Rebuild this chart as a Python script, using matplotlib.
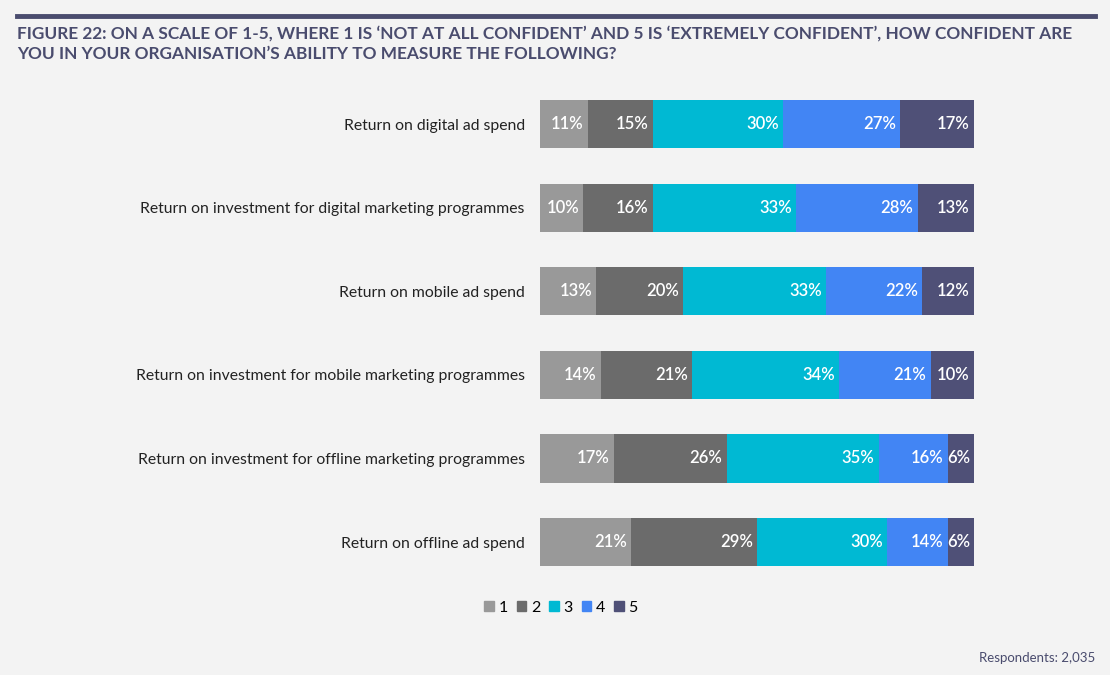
import numpy as np
import matplotlib.pyplot as plt
from matplotlib.patches import Patch

# data
categories = ['Return on digital ad spend',
              'Return on investment for digital marketing programmes',
              'Return on mobile ad spend',
              'Return on investment for mobile marketing programmes',
              'Return on investment for offline marketing programmes',
              'Return on offline ad spend']
score_names = ['1', '2', '3', '4', '5']
score_1 = [11, 10, 13, 14, 17, 21]
score_2 = [15, 16, 20, 21, 26, 29]
score_3 = [30, 33, 33, 34, 35, 30]
score_4 = [27, 28, 22, 21, 16, 14]
score_5 = [17, 13, 12, 10, 6, 6]
colors = ['#999999', '#6b6b6b', '#00b9d3', '#4285f4', '#4f5077']

title = ("FIGURE 22: ON A SCALE OF 1-5, WHERE 1 IS \u2018NOT AT ALL CONFIDENT\u2019 AND 5 IS "
         "\u2018EXTREMELY CONFIDENT\u2019, HOW CONFIDENT ARE\n"
         "YOU IN YOUR ORGANISATION\u2019S ABILITY TO MEASURE THE FOLLOWING?")
bg = '#f3f3f3'
navy = '#4a4c6e'

plt.rcParams['font.family'] = ['Lato', 'DejaVu Sans']

fig = plt.figure(figsize=(11.1, 6.75), dpi=100, facecolor=bg)
ax = fig.add_axes([0.4865, 0.135, 0.391, 0.743])
ax.set_facecolor(bg)

series = [score_1, score_2, score_3, score_4, score_5]
y = np.arange(len(categories))
left = np.zeros(len(categories))
for vals, col in zip(series, colors):
    vals = np.array(vals)
    ax.barh(y, vals, left=left, height=0.575, color=col)
    for yi, l, v in zip(y, left, vals):
        ax.annotate(f'{v}%', xy=(l + v, yi), xytext=(-3, 0), textcoords='offset points',
                    ha='right', va='center', color='white', fontsize=12, fontweight='semibold')
    left += vals

ax.set_xlim(0, 100)
ax.set_ylim(len(categories) - 0.5, -0.5)
ax.set_yticks(y)
ax.set_yticklabels(categories, fontsize=11.3, color='#222222')
ax.tick_params(axis='y', length=0, pad=11)
ax.set_xticks([])
for s in ax.spines.values():
    s.set_visible(False)

# header line and title
fig.add_artist(plt.Line2D([17 / 1110, 1095 / 1110], [1 - 16 / 675, 1 - 16 / 675],
                          color=navy, lw=3.5))
fig.text(17 / 1110, 1 - 26 / 675, title, ha='left', va='top', fontsize=12.4,
         fontweight='bold', color=navy, linespacing=1.3)

handles = [Patch(color=c, label=n) for c, n in zip(colors, score_names)]
fig.legend(handles=handles, loc='center', bbox_to_anchor=(561 / 1110, 1 - 608 / 675),
           ncol=5, frameon=False, fontsize=11.5, handlelength=0.6, handleheight=0.6,
           handletextpad=0.3, columnspacing=0.55)

fig.text(1095 / 1110, 1 - 658 / 675, 'Respondents: 2,035', ha='right', va='center',
         fontsize=9.5, color='#4a4c6e')

fig.savefig('out.png', dpi=100, facecolor=bg)
